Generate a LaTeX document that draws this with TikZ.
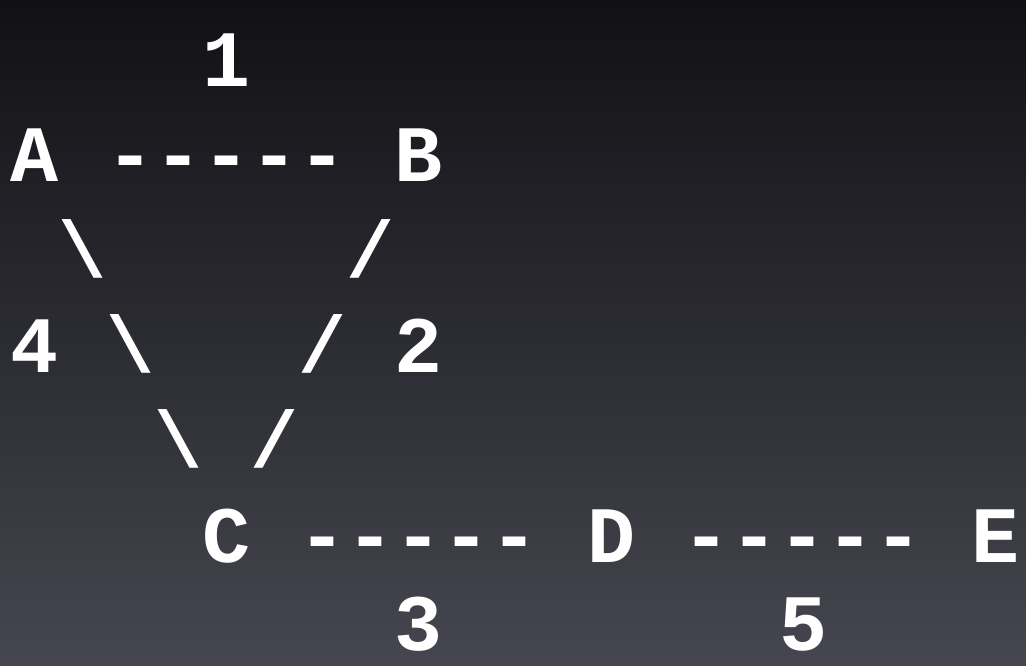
\documentclass[tikz,border=0pt]{standalone}
\usepackage{fontspec}
\setmonofont{Liberation Mono}
\definecolor{bgtop}{HTML}{111115}
\definecolor{bgbot}{HTML}{45464F}

\begin{document}
\begin{tikzpicture}[x=1pt,y=1pt,
  glyph/.style={font=\ttfamily\bfseries\fontsize{80}{80}\selectfont,
                text=white,anchor=base,inner sep=0pt},
]

% Background
\shade[top color=bgtop,bottom color=bgbot] (0,0) rectangle (1026,-666);

% Top row
\node[glyph] (w1) at (227,-87) {1};
\node[glyph] (a) at (35,-182) {A};
\node[glyph] (ab) at (227,-182) {-{}-{}-{}-{}-};
\node[glyph] (b) at (419,-182) {B};

% Sides of the triangle
\node[glyph] (ac1) at (83,-277) {\textbackslash};
\node[glyph] (bc1) at (371,-277) {/};
\node[glyph] (w4) at (35,-372) {4};
\node[glyph] (ac2) at (131,-372) {\textbackslash};
\node[glyph] (bc2) at (323,-372) {/};
\node[glyph] (w2) at (419,-372) {2};
\node[glyph] (ac3) at (179,-467) {\textbackslash};
\node[glyph] (bc3) at (275,-467) {/};

% Bottom row
\node[glyph] (c) at (227,-562) {C};
\node[glyph] (cd) at (419,-562) {-{}-{}-{}-{}-};
\node[glyph] (d) at (611,-562) {D};
\node[glyph] (de) at (803,-562) {-{}-{}-{}-{}-};
\node[glyph] (e) at (995,-562) {E};
\node[glyph] (w3) at (419,-650) {3};
\node[glyph] (w5) at (803,-650) {5};

\end{tikzpicture}
\end{document}
